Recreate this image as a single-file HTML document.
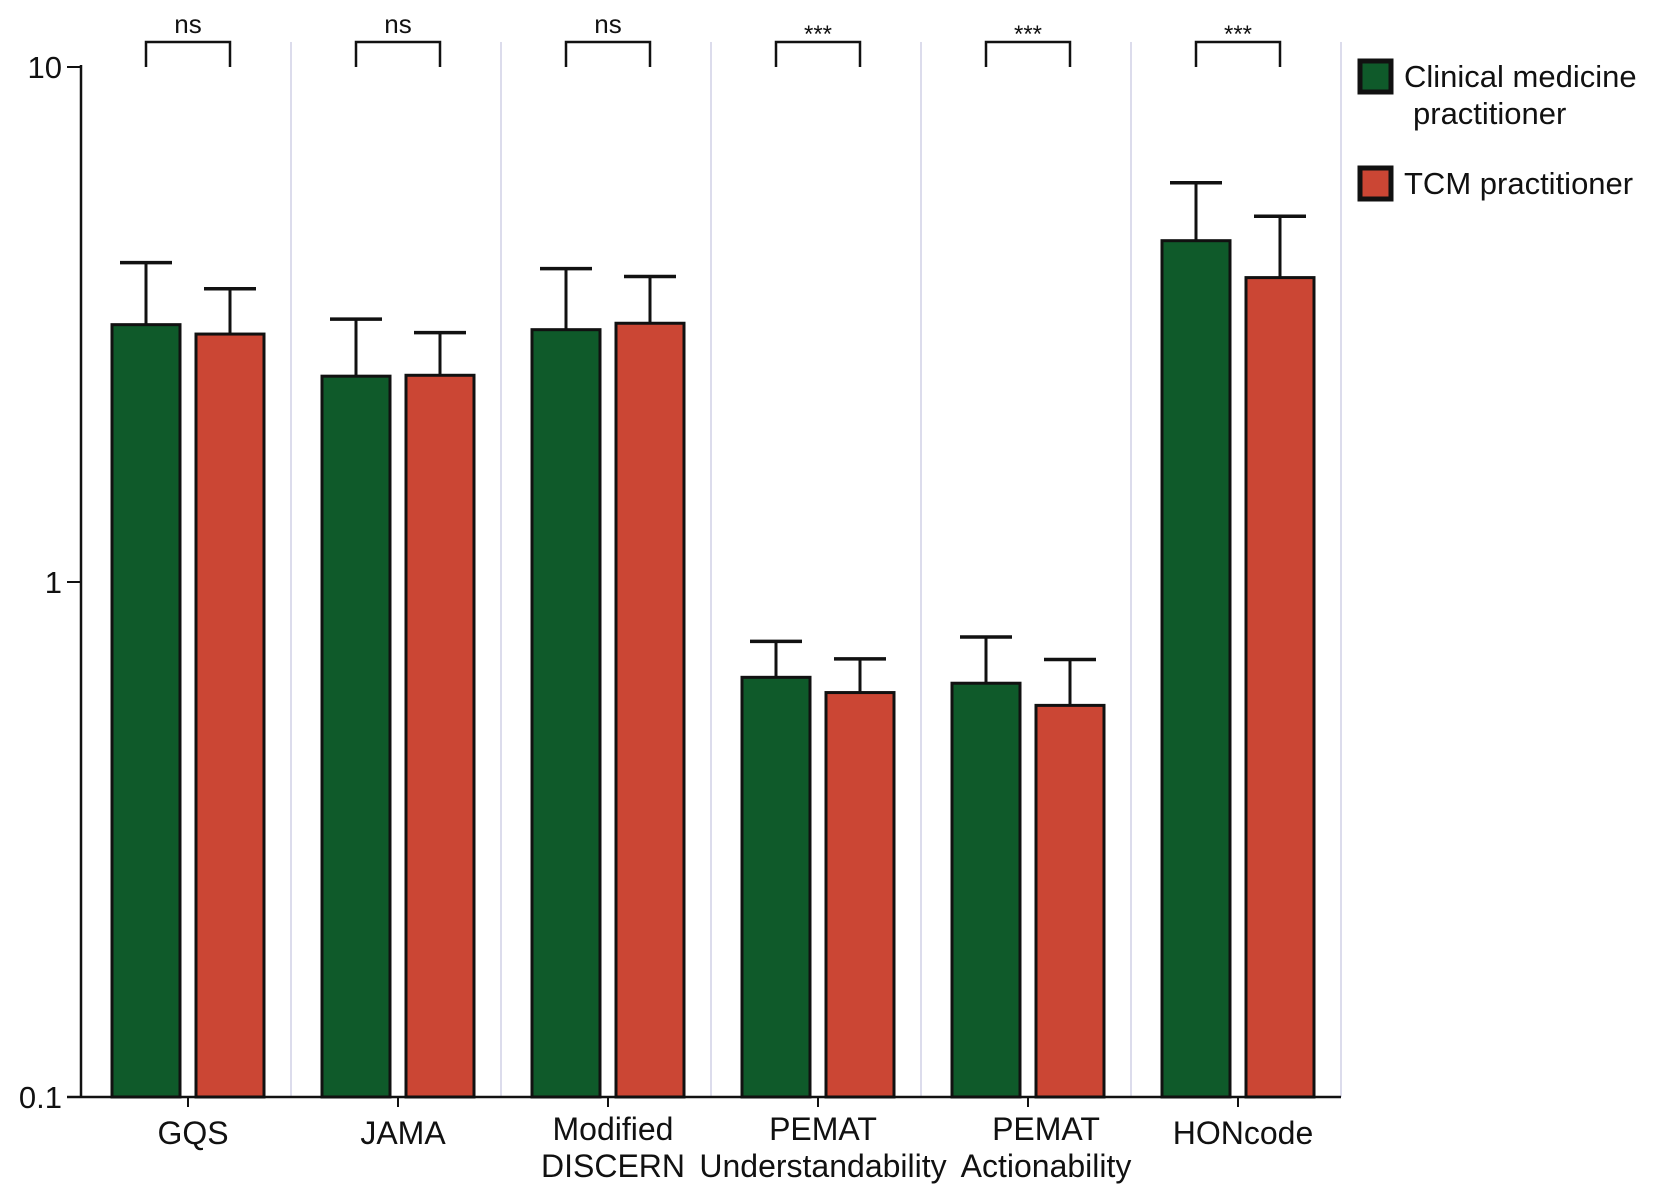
<!DOCTYPE html>
<html><head><meta charset="utf-8"><style>
html,body{margin:0;padding:0;background:#fff}
svg{display:block}
text{font-family:"Liberation Sans",Arial,sans-serif;fill:#111}
</style></head><body>
<svg id="chart" width="1654" height="1193" viewBox="0 0 1654 1193" xmlns="http://www.w3.org/2000/svg"></svg>
<script>
const categories = [["GQS"],["JAMA"],["Modified","DISCERN"],["PEMAT","Understandability"],["PEMAT","Actionability"],["HONcode"]];
const clinicalValues = [3.16, 2.51, 3.09, 0.653, 0.636, 4.6];
const clinicalErrTop = [4.17, 3.24, 4.06, 0.767, 0.782, 5.96];
const tcmValues = [3.03, 2.52, 3.18, 0.61, 0.576, 3.9];
const tcmErrTop = [3.71, 3.05, 3.92, 0.709, 0.707, 5.13];
const significance = ["ns","ns","ns","***","***","***"];
const yTicks = [10, 1, 0.1];
const yTickLabels = ["10","1","0.1"];

const svg = document.getElementById('chart');
const NS = 'http://www.w3.org/2000/svg';
const x0 = 81, groupW = 210, yTop = 67, yBot = 1097;
function yScale(v){ return yBot - (Math.log10(v) - Math.log10(0.1)) / 2 * (yBot - yTop); }
function groupX(i){ return x0 + i * groupW; }
function mk(tag, attrs, parent){ const e = document.createElementNS(NS, tag); for (const k in attrs) e.setAttribute(k, attrs[k]); (parent||svg).appendChild(e); return e; }

for (let i = 1; i <= categories.length; i++) {
  const l = mk('line', {x1: groupX(i), x2: groupX(i), y1: 42, y2: yBot, stroke: '#dcdcec', 'stroke-width': 2});
  
  
}

const colors = ['#0f5a2a', '#cb4634'];
const series = [[clinicalValues, clinicalErrTop], [tcmValues, tcmErrTop]];
categories.forEach((cat, i) => {
  const gx = groupX(i);
  const centers = [];
  series.forEach((s, j) => {
    const bx = gx + 31 + j * 84, bw = 68;
    const cx = bx + bw / 2;
    centers.push(cx);
    const yv = yScale(s[0][i]), ye = yScale(s[1][i]);
    const eb = mk('line', {x1: cx, x2: cx, y1: ye, y2: yv, stroke: '#111', 'stroke-width': 3});
    
    
    const cap = mk('line', {x1: cx - 26, x2: cx + 26, y1: ye, y2: ye, stroke: '#111', 'stroke-width': 3.5});
    
    
    const r = mk('rect', {x: bx, y: yv, width: bw, height: yBot - yv, fill: colors[j], stroke: '#111', 'stroke-width': 3});
    
    
  });
  const br = mk('path', {d: `M${centers[0]},67 V42 H${centers[1]} V67`, fill: 'none', stroke: '#111', 'stroke-width': 2.5});
  
  
  const st = mk('text', {x: (centers[0] + centers[1]) / 2, y: significance[i] === 'ns' ? 33 : 42, 'text-anchor': 'middle', 'font-size': significance[i] === 'ns' ? 26 : 24});
  st.textContent = significance[i];
  
  
  const tx = gx + groupW / 2 + 2;
  const tk = mk('line', {x1: tx, x2: tx, y1: yBot, y2: yBot + 10, stroke: '#111', 'stroke-width': 2});
  
  
  const shift = (cat[1] === 'Actionability') ? 20 : 7;
  const lbl = mk('text', {x: gx + groupW / 2 + shift, 'text-anchor': 'middle', 'font-size': 32});
  
  
  const baseY = cat.length > 1 ? 1140 : 1144;
  cat.forEach((line, k) => { const t = mk('tspan', {x: lbl.getAttribute('x'), y: baseY + k * 37}, lbl); t.textContent = line; });
});

const ya = mk('line', {x1: x0, x2: x0, y1: yTop - 2, y2: yBot, stroke: '#111', 'stroke-width': 2.5});


const xa = mk('line', {x1: x0 - 14, x2: groupX(categories.length), y1: yBot, y2: yBot, stroke: '#111', 'stroke-width': 2.5});


yTicks.forEach((v, k) => {
  const y = yScale(v);
  const t = mk('line', {x1: x0 - 14, x2: x0, y1: y, y2: y, stroke: '#111', 'stroke-width': 2});
  
  
  const tl = mk('text', {x: x0 - 19, y: y + 11, 'text-anchor': 'end', 'font-size': 31});
  tl.textContent = yTickLabels[k];
  
  
});

const lg = mk('g', {});


const legendItems = [["Clinical medicine", " practitioner"], ["TCM practitioner"]];
const legendY = [59, 166];
legendItems.forEach((lines, j) => {
  const g = mk('g', {}, lg);
  
  
  mk('rect', {x: 1360, y: legendY[j] + 2, width: 31, height: 31, fill: colors[j], stroke: '#111', 'stroke-width': 5}, g);
  const t = mk('text', {x: 1404, 'font-size': 31}, g);
  lines.forEach((ln, k) => { const s = mk('tspan', {x: k ? 1413 : 1404, y: legendY[j] + 28 + k * 37}, t); s.textContent = ln.trim(); });
});
</script>
</body></html>
